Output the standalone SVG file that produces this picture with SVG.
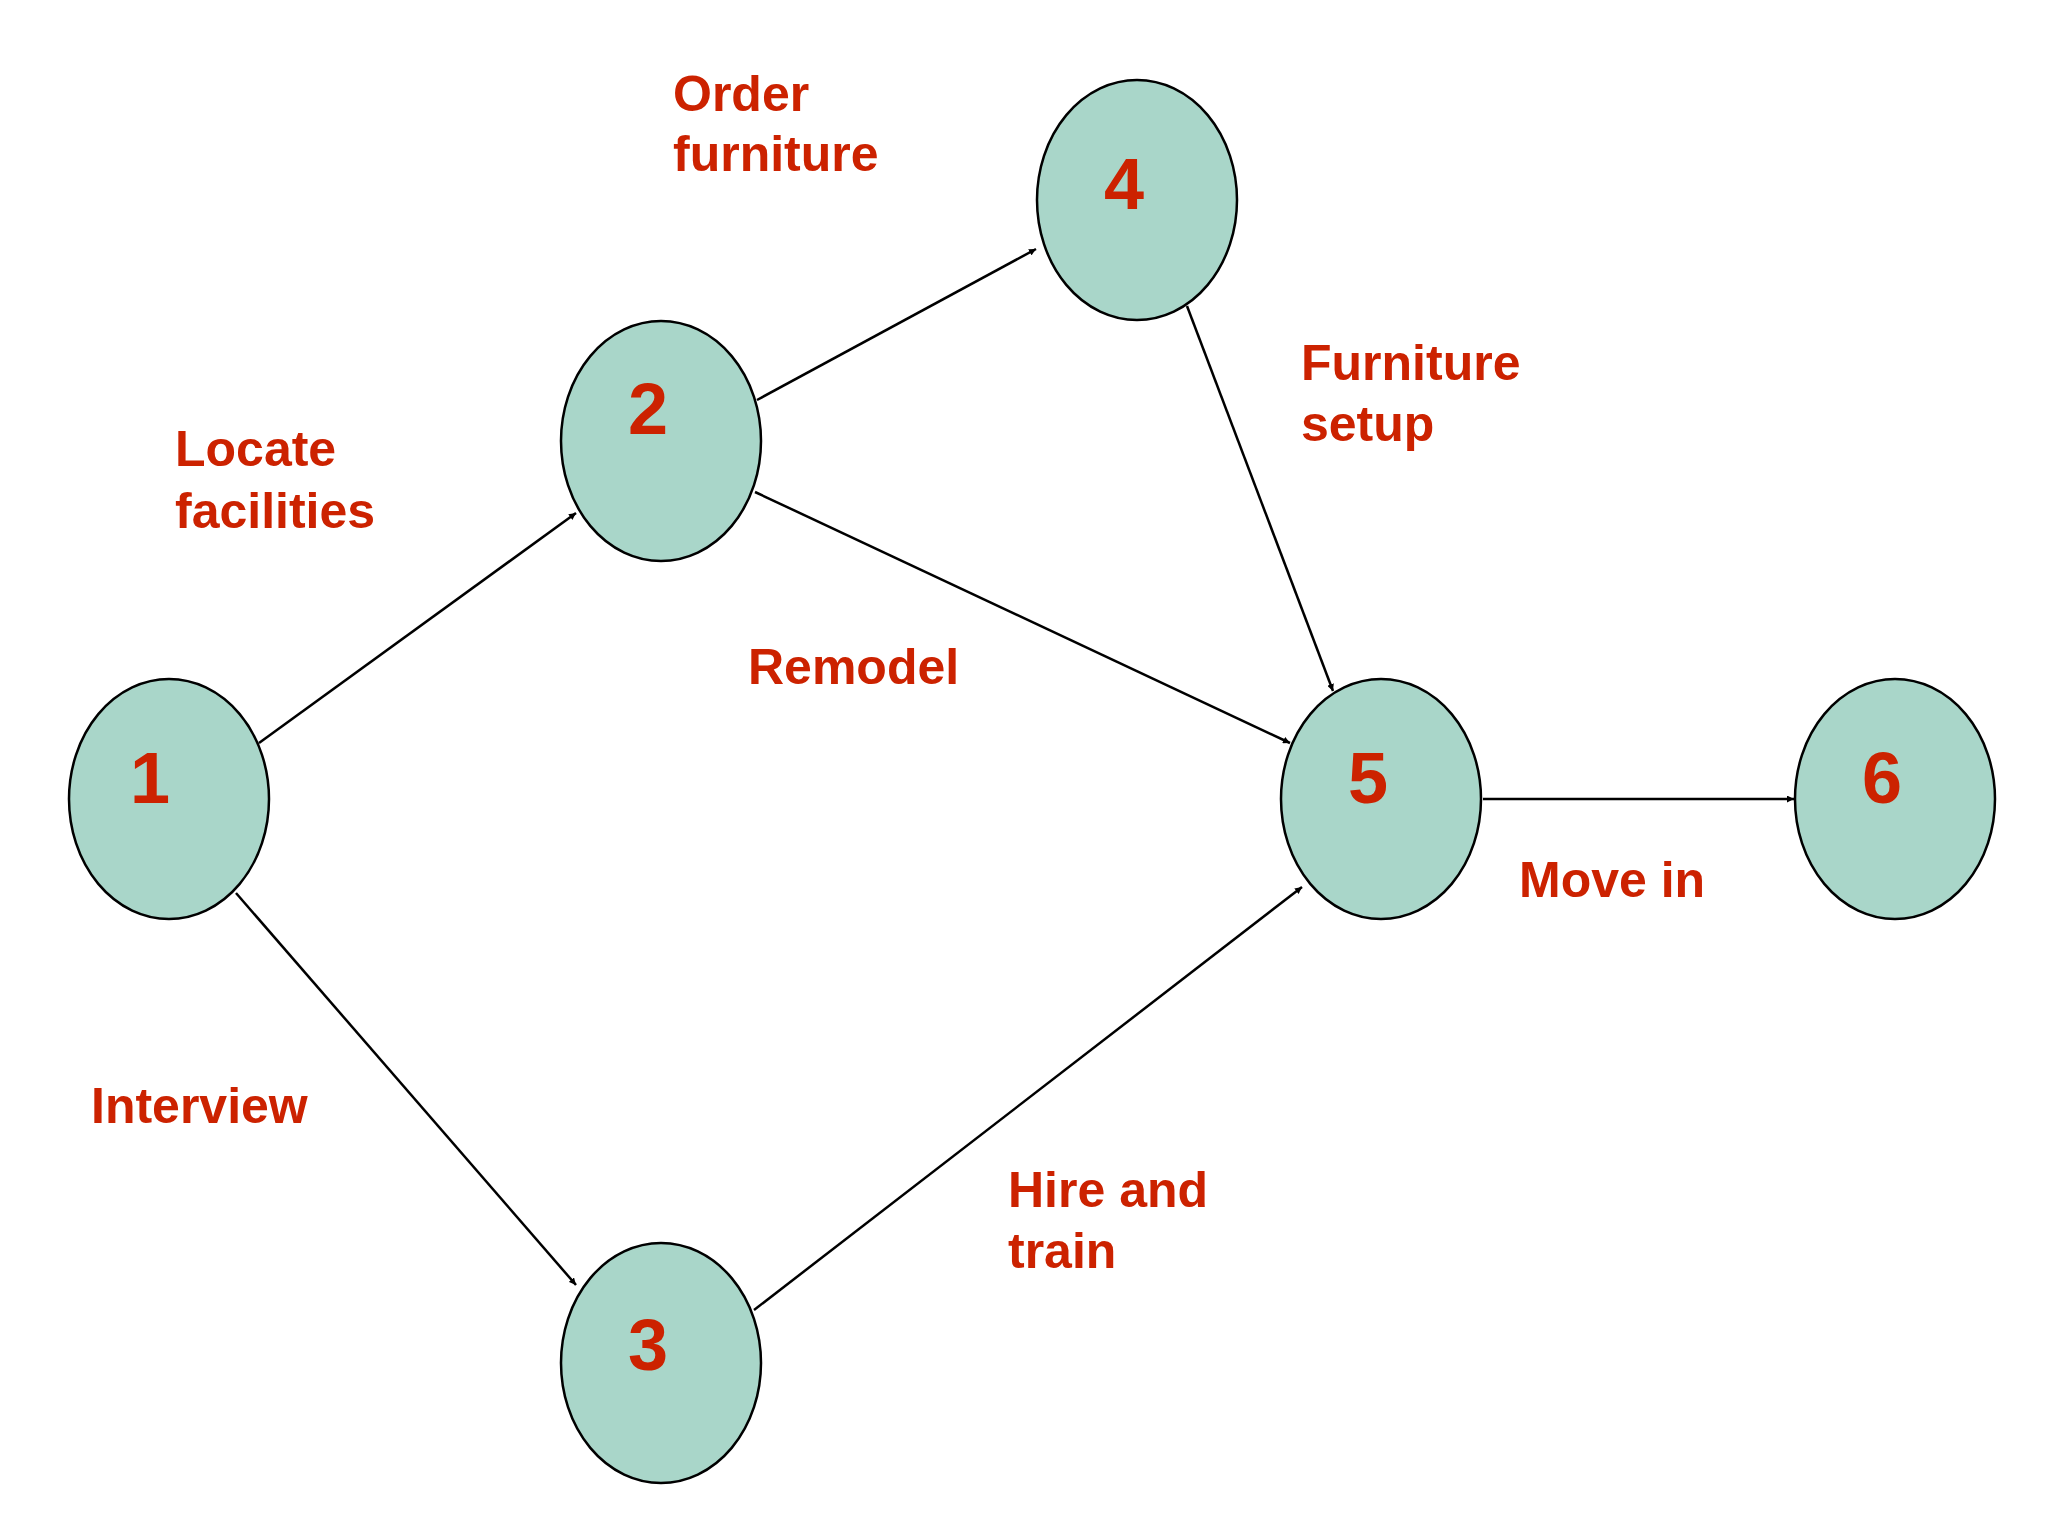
<svg xmlns="http://www.w3.org/2000/svg" width="2048" height="1536" viewBox="0 0 2048 1536">
<style>
.n{fill:#A9D6C9;stroke:#000;stroke-width:2.5}
.num{font-family:"Liberation Sans",Arial,sans-serif;font-weight:bold;font-size:72px;fill:#CC2200;text-anchor:middle}
.lbl{font-family:"Liberation Sans",Arial,sans-serif;font-weight:bold;font-size:50px;fill:#CC2200}
.e{stroke:#000;stroke-width:2.5;fill:none;marker-end:url(#a)}
</style>
<defs><marker id="a" viewBox="0 0 10 10" refX="10" refY="5" markerWidth="7" markerHeight="7" orient="auto" markerUnits="userSpaceOnUse"><path d="M0,0L10,5L0,10z" fill="#000" transform="scale(1)"/></marker></defs>
<rect width="2048" height="1536" fill="#fff"/>
<g id="edges">
<line class="e" x1="259" y1="743" x2="576" y2="513"/>
<line class="e" x1="236" y1="893" x2="576" y2="1285"/>
<line class="e" x1="757" y1="400" x2="1036" y2="249"/>
<line class="e" x1="755" y1="492" x2="1290" y2="743"/>
<line class="e" x1="1187" y1="306" x2="1333" y2="691"/>
<line class="e" x1="754" y1="1310" x2="1302" y2="887"/>
<line class="e" x1="1483" y1="799" x2="1794" y2="799"/>
</g>
<g id="n1"><ellipse class="n" cx="169" cy="799" rx="100" ry="120"/><text class="num" x="150" y="803">1</text></g>
<g id="n2"><ellipse class="n" cx="661" cy="441" rx="100" ry="120"/><text class="num" x="648" y="434">2</text></g>
<g id="n3"><ellipse class="n" cx="661" cy="1363" rx="100" ry="120"/><text class="num" x="648" y="1370">3</text></g>
<g id="n4"><ellipse class="n" cx="1137" cy="200" rx="100" ry="120"/><text class="num" x="1124" y="209">4</text></g>
<g id="n5"><ellipse class="n" cx="1381" cy="799" rx="100" ry="120"/><text class="num" x="1368" y="803">5</text></g>
<g id="n6"><ellipse class="n" cx="1895" cy="799" rx="100" ry="120"/><text class="num" x="1882" y="803">6</text></g>
<g id="labels">
<text class="lbl" x="673" y="111">Order</text><text class="lbl" x="673" y="171">furniture</text>
<text class="lbl" x="175" y="466">Locate</text><text class="lbl" x="175" y="528">facilities</text>
<text class="lbl" x="1301" y="380">Furniture</text><text class="lbl" x="1301" y="441">setup</text>
<text class="lbl" x="748" y="684">Remodel</text>
<text class="lbl" x="91" y="1123">Interview</text>
<text class="lbl" x="1008" y="1207">Hire and</text><text class="lbl" x="1008" y="1268">train</text>
<text class="lbl" x="1519" y="897">Move in</text>
</g>
</svg>
